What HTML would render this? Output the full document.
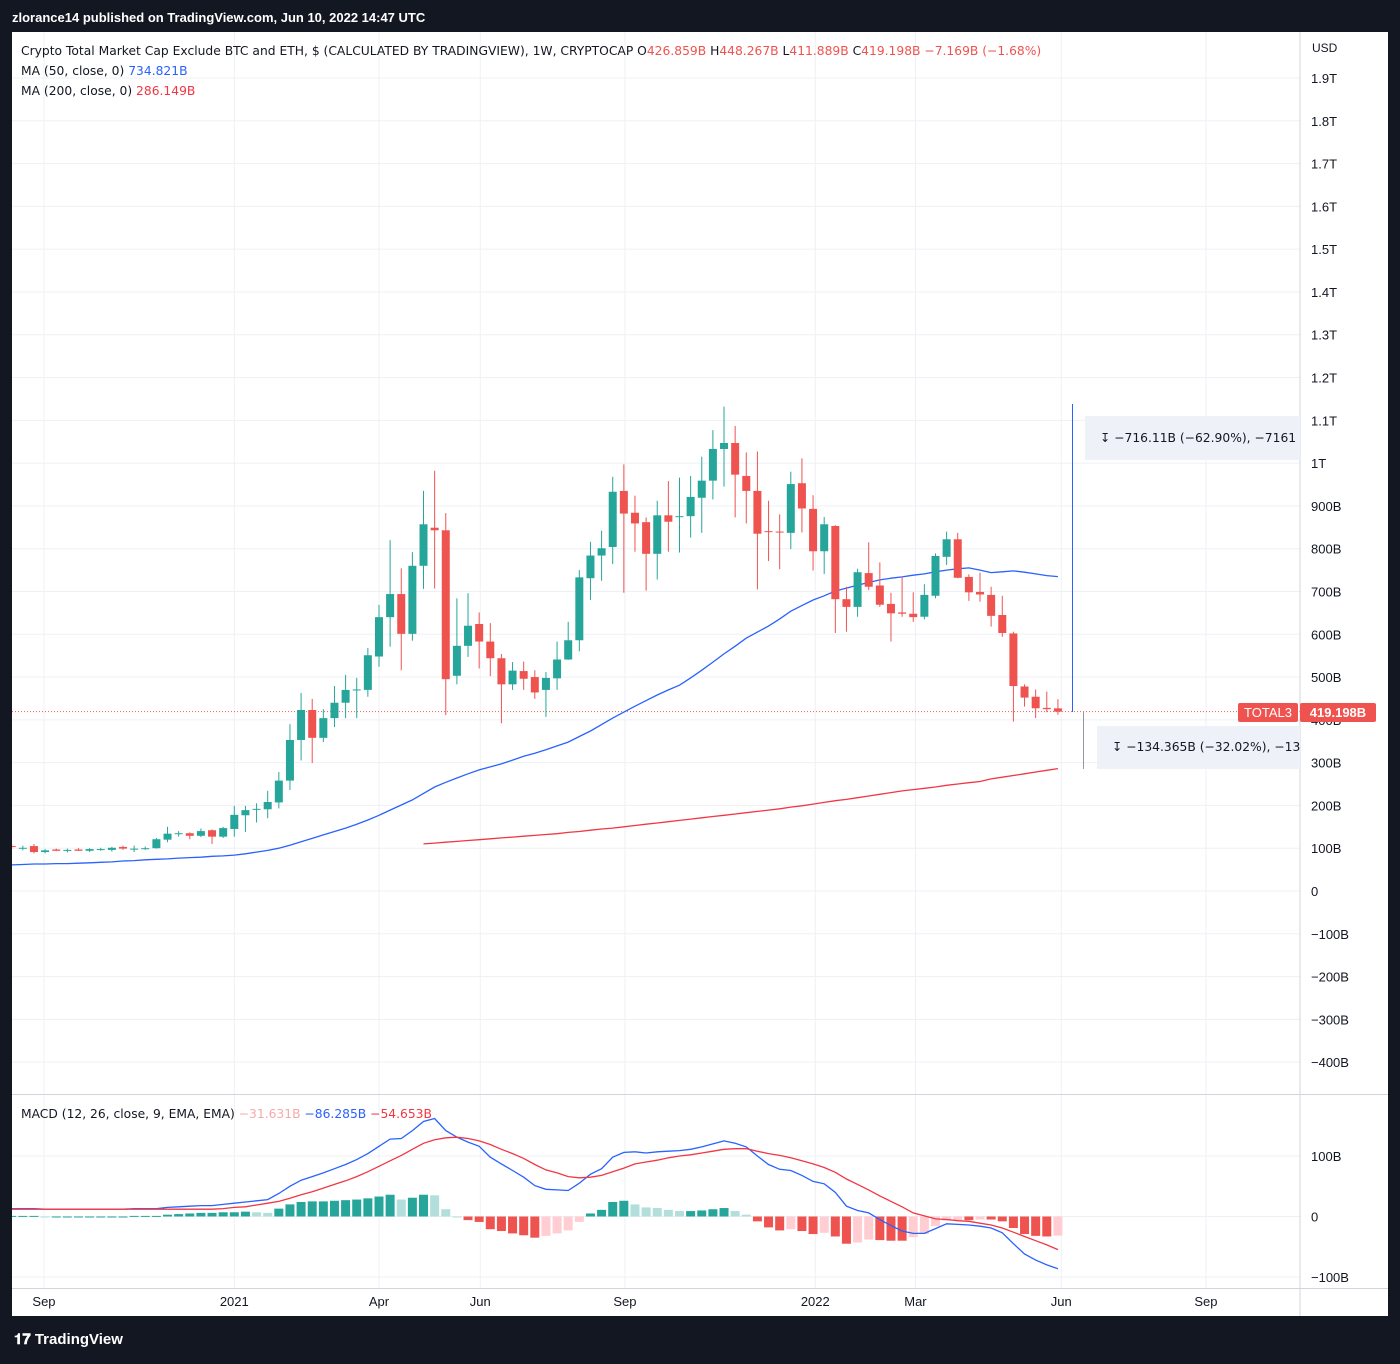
<!DOCTYPE html>
<html><head><meta charset="utf-8">
<style>
html,body{margin:0;padding:0;background:#131722;}
body{width:1400px;height:1359px;overflow:hidden;font-family:"Liberation Sans",sans-serif;}
svg text{font-family:"Liberation Sans",sans-serif;}
svg text.dv{font-family:"DejaVu Sans","Liberation Sans",sans-serif;}
</style></head>
<body>
<svg id="chart" width="1400" height="1359" xmlns="http://www.w3.org/2000/svg">
  <rect x="0" y="0" width="1400" height="1359" fill="#131722"/>
  <text x="12" y="22" fill="#ffffff" font-size="13" font-weight="bold">zlorance14 published on TradingView.com, Jun 10, 2022 14:47 UTC</text>
  <rect x="12" y="32" width="1376" height="1284" fill="#ffffff"/>
  <g id="grid"></g>
  <g id="main"></g>
  <g id="macd"></g>
  <g id="axes"></g>
  <g id="overlay"></g>
  <text x="14" y="1344" fill="#ffffff" font-size="15" font-weight="bold">𝟏𝟕 TradingView</text>
</svg>
<script>
// ---- data ----
const opens  = [105,100,105,91,97,94,97,94,97,96,103,97,99,100,120,134,135,129,142,127,145,177,190,191,207,258,353,423,358,404,440,470,470,548,640,694,601,760,849,843,503,573,624,583,544,483,514,500,470,497,541,586,731,784,804,935,884,862,788,878,875,876,919,959,1033,1047,970,935,841,840,837,953,893,794,853,682,664,743,714,671,651,648,641,690,781,822,734,699,692,645,602,478,454,428,426.859];
const highs  = [110,106,110,98,99,99,100,100,101,103,106,106,104,124,150,140,137,146,144,150,199,199,205,234,278,390,463,449,425,479,505,498,568,669,820,754,792,935,982,883,684,696,651,626,554,535,536,516,512,583,629,750,816,842,968,997,924,873,912,958,966,970,1015,1077,1132,1087,1025,1027,912,880,980,1011,925,874,855,711,753,815,768,697,735,698,717,789,840,837,740,744,711,690,606,483,471,466,448.267];
const lows   = [98,95,88,88,93,90,94,91,94,92,96,91,96,99,114,127,121,126,110,124,127,138,160,170,193,236,305,299,348,383,404,404,454,524,571,516,585,706,707,411,483,547,520,502,392,470,470,449,407,470,540,560,680,725,764,697,793,702,728,793,791,826,837,915,945,873,859,705,771,752,799,838,749,741,603,606,641,703,664,583,641,629,635,684,762,731,678,676,618,594,396,431,404,418,411.889];
const closes = [103,101,91,95,94,96,94,98,98,101,99,99,100,121,134,135,129,140,127,147,178,189,192,208,258,353,423,358,404,440,470,471,551,640,694,601,760,857,843,495,573,620,583,544,483,515,496,464,498,541,586,733,784,801,933,882,859,788,878,863,876,921,959,1033,1047,973,935,835,840,838,951,894,794,857,682,664,745,711,669,649,648,640,692,783,822,732,698,693,643,603,479,452,427,425,419.198];
const ma50 = [61,62,63,63,64,64,65,66,67,68,70,71,73,74,75,77,78,79,81,82,84,87,91,95,100,107,115,123,131,139,147,156,166,177,189,201,213,228,243,254,264,274,283,290,297,306,315,322,330,339,348,361,374,389,404,418,432,445,458,470,481,498,516,535,554,572,591,605,619,636,654,667,680,690,701,708,715,721,727,731,734,738,741,746,750,753,755,750,744,746,748,745,741,737,734.8];
const ma200 = [null,null,null,null,null,null,null,null,null,null,null,null,null,null,null,null,null,null,null,null,null,null,null,null,null,null,null,null,null,null,null,null,null,null,null,null,null,110,112,114,116,118,120,122,124,126,128,130,132,134,137,139,142,145,147,150,153,156,159,162,165,168,171,174,177,180,183,186,189,192,196,199,203,207,211,214,218,222,226,230,234,237,240,243,247,250,253,256,262,266,270,274,278,282,286.1];
const macdLine = [13,13,13,12,12,12,12,12,12,12,12,13,13,13,15,16,17,18,18,20,22,24,26,28,38,50,60,66,72,79,86,94,104,116,128,129,142,157,162,142,131,123,116,98,87,76,65,51,45,44,43,55,70,79,98,106,107,105,107,108,109,111,115,120,125,121,115,100,86,78,76,68,58,54,40,17,10,6,-5,-15,-24,-28,-28,-20,-12,-13,-14,-16,-19,-27,-45,-62,-72,-80,-86.285];
const signalLine = [12,12,12,12,12,12,12,12,12,12,12,12,12,12,12,12,12,12,12,13,15,16,19,22,25,30,36,41,47,53,59,66,74,83,92,101,111,121,127,130,131,129,125,119,111,104,96,86,77,72,66,64,65,68,74,80,87,90,93,97,100,102,105,108,111,112,112,108,104,101,97,92,87,81,73,62,53,44,34,25,16,6,1,-4,-5,-7,-8,-11,-14,-19,-26,-33,-40,-47,-54.653];
const priceTicks = [1900,1800,1700,1600,1500,1400,1300,1200,1100,1000,900,800,700,600,500,400,300,200,100,0,-100,-200,-300,-400];
const priceTickLabels = ["1.9T","1.8T","1.7T","1.6T","1.5T","1.4T","1.3T","1.2T","1.1T","1T","900B","800B","700B","600B","500B","400B","300B","200B","100B","0","−100B","−200B","−300B","−400B"];
const macdTicks = [100,0,-100];
const macdTickLabels = ["100B","0","−100B"];
const timeTickWeeks = [2.9,20,33,42.1,55.1,72.2,81.2,94.3,107.3];
const timeTickLabels = ["Sep","2021","Apr","Jun","Sep","2022","Mar","Jun","Sep"];
const lastClose = 419.198;

// ---- scales ----
const X0 = 11.7, DX = 11.13;
function xOf(i){ return X0 + DX*i; }
function yOf(v){ return 891 - v*0.42789; }
function yM(v){ return 1216.5 - v*0.605; }

const NS = "http://www.w3.org/2000/svg";
function mk(tag, attrs, parent){
  const e = document.createElementNS(NS, tag);
  for (const k in attrs) e.setAttribute(k, attrs[k]);
  parent.appendChild(e);
  return e;
}
const grid = document.getElementById('grid');
const main = document.getElementById('main');
const macdG = document.getElementById('macd');
const axes = document.getElementById('axes');
const overlay = document.getElementById('overlay');

const defs = mk('defs', {}, document.getElementById('chart'));
const cp1 = mk('clipPath', {id:'clipMain'}, defs);
mk('rect', {x:12, y:32, width:1288, height:1062}, cp1);
const cp2 = mk('clipPath', {id:'clipMacd'}, defs);
mk('rect', {x:12, y:1095, width:1288, height:193}, cp2);
main.setAttribute('clip-path', 'url(#clipMain)');
macdG.setAttribute('clip-path', 'url(#clipMacd)');

priceTicks.forEach((v, k) => {
  const l = mk('line', {x1:12, x2:1300, y1:yOf(v), y2:yOf(v), stroke:'#eef0f5', 'stroke-width':1}, grid);
  
  
  const t = mk('text', {x:1311, y:yOf(v)+5, 'font-size':13, fill:'#131722'}, axes);
  t.textContent = priceTickLabels[k];
  
  
});
macdTicks.forEach((v, k) => {
  const l = mk('line', {x1:12, x2:1300, y1:yM(v), y2:yM(v), stroke:'#eef0f5', 'stroke-width':1}, grid);
  
  
  const t = mk('text', {x:1311, y:yM(v)+5, 'font-size':13, fill:'#131722'}, axes);
  t.textContent = macdTickLabels[k];
  
  
});
timeTickWeeks.forEach((w, k) => {
  const x = xOf(w);
  const l = mk('line', {x1:x, x2:x, y1:32, y2:1288, stroke:'#eef0f5', 'stroke-width':1}, grid);
  
  
  const t = mk('text', {x:x, y:1306, 'font-size':13, fill:'#131722', 'text-anchor':'middle'}, axes);
  t.textContent = timeTickLabels[k];
  
  
});

let s1 = mk('line', {x1:1300, x2:1300, y1:32, y2:1316, stroke:'#d1d4dc', 'stroke-width':1}, axes);


let s2 = mk('line', {x1:12, x2:1388, y1:1094.5, y2:1094.5, stroke:'#d1d4dc', 'stroke-width':1}, axes);


let s3 = mk('line', {x1:12, x2:1388, y1:1288.5, y2:1288.5, stroke:'#d1d4dc', 'stroke-width':1}, axes);



let pl = mk('line', {x1:12, x2:1300, y1:yOf(lastClose), y2:yOf(lastClose), stroke:'#ef5350', 'stroke-width':1, 'stroke-dasharray':'1 2'}, main);



function linePath(arr, yf){
  let d = '';
  arr.forEach((v, i) => { if (v === null) return; d += (d ? 'L' : 'M') + xOf(i).toFixed(1) + ' ' + yf(v).toFixed(1); });
  return d;
}
let m50 = mk('path', {d:linePath(ma50, yOf), fill:'none', stroke:'#2962ff', 'stroke-width':1.3}, main);


let m200 = mk('path', {d:linePath(ma200, yOf), fill:'none', stroke:'#f23645', 'stroke-width':1.3}, main);



opens.forEach((o, i) => {
  const c = closes[i], h = highs[i], l = lows[i];
  const up = c >= o;
  const col = up ? '#26a69a' : '#ef5350';
  const x = xOf(i);
  const g = mk('g', {}, main);
  
  
  mk('line', {x1:x, x2:x, y1:yOf(h), y2:yOf(l), stroke:col, 'stroke-width':1}, g);
  const top = yOf(Math.max(o, c)), bot = yOf(Math.min(o, c));
  mk('rect', {x:x-4, y:top, width:8, height:Math.max(1, bot-top), fill:col}, g);
});

macdLine.forEach((m, i) => {
  const h = m - signalLine[i];
  const prev = i > 0 ? macdLine[i-1] - signalLine[i-1] : h;
  let col;
  if (h >= 0) col = h >= prev ? '#26a69a' : '#b2dfdb';
  else col = h <= prev ? '#ef5350' : '#ffcdd2';
  const x = xOf(i);
  const y0 = yM(0), y1 = yM(h);
  const r = mk('rect', {x:x-4.5, y:Math.min(y0, y1), width:9, height:Math.max(1, Math.abs(y1-y0)), fill:col}, macdG);
  
  
});
let ml = mk('path', {d:linePath(macdLine, yM), fill:'none', stroke:'#2962ff', 'stroke-width':1.3}, macdG);


let sl = mk('path', {d:linePath(signalLine, yM), fill:'none', stroke:'#f23645', 'stroke-width':1.3}, macdG);



let lb = mk('rect', {x:1238, y:703, width:60, height:19, fill:'#ef5350', rx:2}, overlay);


let lt = mk('text', {x:1268, y:717, 'font-size':13, fill:'#fff', 'text-anchor':'middle'}, overlay);
lt.textContent = 'TOTAL3';


let pb = mk('rect', {x:1300, y:703, width:76, height:19, fill:'#ef5350', rx:2}, overlay);


let pt = mk('text', {x:1338, y:717, 'font-size':13, fill:'#fff', 'text-anchor':'middle', 'font-weight':'bold'}, overlay);
pt.textContent = '419.198B';


</script>

<svg style="position:absolute;left:0;top:0" width="1400" height="1359">
  <text x="1312" y="52" font-size="12" fill="#131722">USD</text>
  <text class="dv" x="21" y="55" font-size="12.3" fill="#131722">Crypto Total Market Cap Exclude BTC and ETH, $ (CALCULATED BY TRADINGVIEW), 1W, CRYPTOCAP  O<tspan fill="#ef5350">426.859B</tspan>  H<tspan fill="#ef5350">448.267B</tspan>  L<tspan fill="#ef5350">411.889B</tspan>  C<tspan fill="#ef5350">419.198B</tspan> <tspan fill="#ef5350">−7.169B (−1.68%)</tspan></text>
  <text class="dv" x="21" y="75" font-size="12.3" fill="#131722">MA (50, close, 0)  <tspan fill="#2962ff">734.821B</tspan></text>
  <text class="dv" x="21" y="95" font-size="12.3" fill="#131722">MA (200, close, 0)  <tspan fill="#f23645">286.149B</tspan></text>
  <text class="dv" x="21" y="1118" font-size="12.3" fill="#131722">MACD (12, 26, close, 9, EMA, EMA)  <tspan fill="#f7a9a9">−31.631B</tspan>  <tspan fill="#2962ff">−86.285B</tspan>  <tspan fill="#f23645">−54.653B</tspan></text>
  <line x1="1072.5" y1="404" x2="1072.5" y2="712" stroke="#2962ff" stroke-width="1"/>
  <rect x="1085" y="416" width="215" height="44" fill="#eef1f7"/>
  <text class="dv" x="1100" y="442" font-size="12.3" fill="#131722">↧  −716.11B (−62.90%), −7161</text>
  <line x1="1083.5" y1="712" x2="1083.5" y2="769" stroke="#9598a1" stroke-width="1"/>
  <rect x="1097" y="726" width="203" height="43" fill="#eef1f7"/>
  <text class="dv" x="1112" y="751" font-size="12.3" fill="#131722">↧  −134.365B (−32.02%), −13</text>
</svg>
</body></html>
